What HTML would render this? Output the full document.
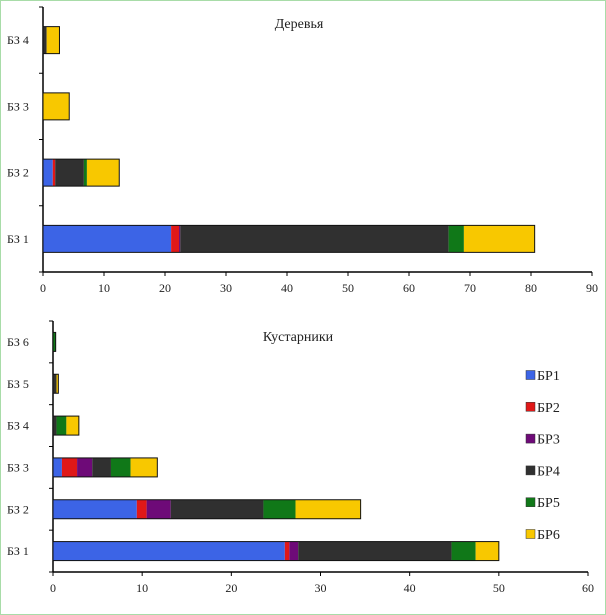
<!DOCTYPE html>
<html><head><meta charset="utf-8"><style>
html,body{margin:0;padding:0;background:#fff}
#wrap{position:relative;width:604px;height:613px;border:1px solid #a8dca8;overflow:hidden}
svg{position:absolute;left:0;top:0;font-family:"Liberation Serif",serif}
</style></head><body>
<div id="wrap">
<svg id="s" width="606" height="615"></svg>
</div>
<script>
const seriesNames=["БР1","БР2","БР3","БР4","БР5","БР6"];
const colors=["#3c64e6","#e01818","#6e0a78","#303030","#107818","#f8c800"];
const treeCats=["БЗ 1","БЗ 2","БЗ 3","БЗ 4"];
const treeBR1=[21.0,1.6,0,0];
const treeBR2=[1.3,0.4,0,0];
const treeBR3=[0.2,0,0,0];
const treeBR4=[44.0,4.7,0,0.6];
const treeBR5=[2.5,0.5,0,0];
const treeBR6=[11.6,5.3,4.3,2.1];
const treeTicks=[0,10,20,30,40,50,60,70,80,90];
const shrubCats=["БЗ 1","БЗ 2","БЗ 3","БЗ 4","БЗ 5","БЗ 6"];
const shrubBR1=[26.0,9.4,1.0,0,0,0];
const shrubBR2=[0.5,1.1,1.7,0,0,0];
const shrubBR3=[1.0,2.7,1.7,0,0,0];
const shrubBR4=[17.2,10.4,2.1,0.4,0.4,0];
const shrubBR5=[2.7,3.6,2.2,1.1,0,0.3];
const shrubBR6=[2.6,7.3,3.0,1.4,0.2,0];
const shrubTicks=[0,10,20,30,40,50,60];

const NS="http://www.w3.org/2000/svg";
const svg=document.getElementById('s');
function mk(t,a,p){const e=document.createElementNS(NS,t);for(const k in a)e.setAttribute(k,a[k]);(p||svg).appendChild(e);return e;}

function chart(cfg){
  const g=mk('g',{});
  
  
  const xs=v=>cfg.x0+(v-0)*(cfg.x1-cfg.x0)/cfg.max;
  const band=(cfg.yb-cfg.yt)/cfg.cats.length;
  const yc=i=>cfg.yb-band*(i+0.5);
  const ax=mk('line',{x1:cfg.x0,y1:cfg.yt,x2:cfg.x0,y2:cfg.yb,stroke:'#000','stroke-width':1.5},g);
  
  const bx=mk('line',{x1:cfg.x0,y1:cfg.yb,x2:cfg.x1,y2:cfg.yb,stroke:'#000','stroke-width':1.5},g);
  
  for(let i=0;i<=cfg.cats.length;i++){
    const y=cfg.yb-band*i;
    mk('line',{x1:cfg.x0-4,y1:y,x2:cfg.x0,y2:y,stroke:'#000'},g);
  }
  cfg.ticks.forEach(t=>{
    mk('line',{x1:xs(t),y1:cfg.yb,x2:xs(t),y2:cfg.yb+4,stroke:'#000'},g);
    const tx=mk('text',{x:xs(t),y:cfg.yb+20,'text-anchor':'middle','font-size':12,fill:'#222'},g);
    tx.textContent=t;
    
  });
  cfg.cats.forEach((c,i)=>{
    const tx=mk('text',{x:6,y:yc(i)+4,'font-size':12,fill:'#222'},g);
    tx.textContent=c;
    
    let acc=0;
    cfg.series.forEach((arr,s)=>{
      const v=arr[i];if(!v)return;
      const r=mk('rect',{x:xs(acc),y:yc(i)-cfg.bh/2,width:xs(acc+v)-xs(acc),height:cfg.bh,fill:colors[s]},g);
      
      acc+=v;
    });
    if(acc>0){
      mk('rect',{x:xs(0),y:yc(i)-cfg.bh/2,width:xs(acc)-xs(0),height:cfg.bh,fill:'none',stroke:'#111','stroke-width':1},g);
    }
  });
  const t=mk('text',{x:cfg.tx,y:cfg.ty,'text-anchor':'middle','font-size':14,fill:'#222'},g);
  t.textContent=cfg.title;
  
}
chart({name:'trees-chart',cats:treeCats,series:[treeBR1,treeBR2,treeBR3,treeBR4,treeBR5,treeBR6],
  ticks:treeTicks,max:90,x0:42,x1:591,yt:6,yb:271,bh:27,title:'Деревья',tx:298,ty:27});
chart({name:'shrubs-chart',cats:shrubCats,series:[shrubBR1,shrubBR2,shrubBR3,shrubBR4,shrubBR5,shrubBR6],
  ticks:shrubTicks,max:60,x0:52,x1:587,yt:320,yb:571,bh:19,title:'Кустарники',tx:297,ty:340});
const lg=mk('g',{});

seriesNames.forEach((n,i)=>{
  const y=374+i*31.8;
  const r=mk('rect',{x:525,y:y-4.5,width:9,height:9,fill:colors[i],stroke:'#333','stroke-width':0.5},lg);
  
  const t=mk('text',{x:536,y:y+5,'font-size':14,fill:'#222'},lg);
  t.textContent=n;
  
});
</script>
</body></html>
